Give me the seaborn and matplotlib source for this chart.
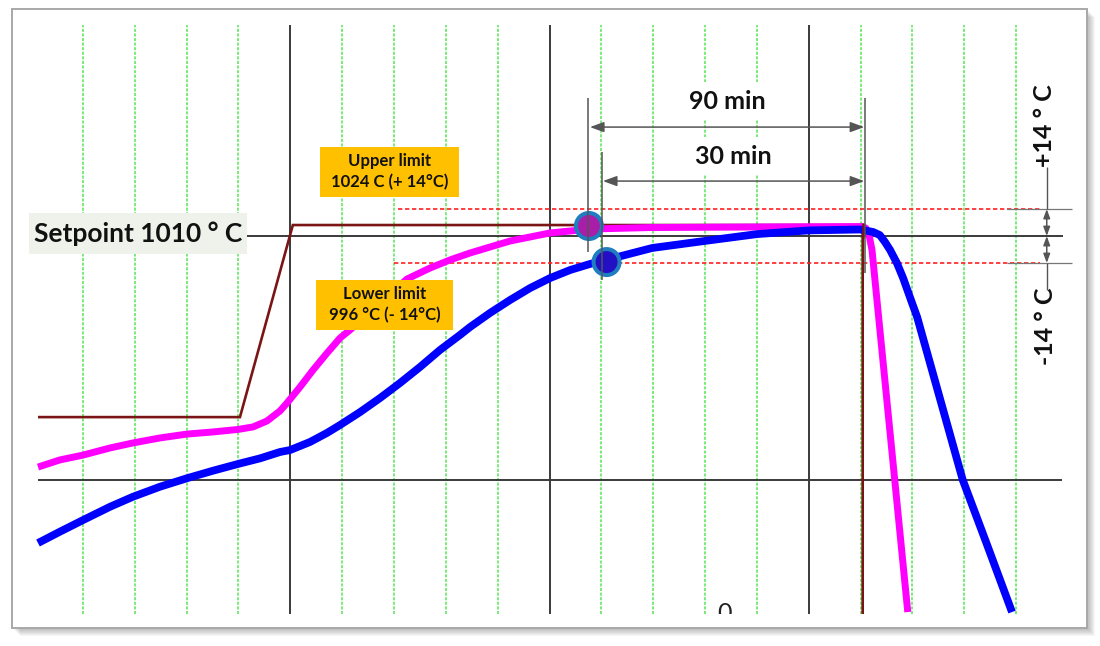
"""
Furnace soak diagram: setpoint ramp, surface and core temperature,
tolerance band of +/- 14 °C around the 1010 °C setpoint.
Time axis is in grid divisions (schematic), temperature in °C.
"""

import matplotlib
matplotlib.use('Agg')
import numpy as np
import pandas as pd
import matplotlib.pyplot as plt
from matplotlib.patches import Rectangle
import seaborn as sns

# ── Data ──────────────────────────────────────────────────────────────────────

SETPOINT = 1010
TOL = 14
UPPER = SETPOINT + TOL
LOWER = SETPOINT - TOL
BASE_C = 883.5

# furnace setpoint programme
PROG_T = [0.135, 4.03, 5.05, 16.04, 16.04]
PROG_C = [916.1, 916.1, 1015.7, 1015.7, 814.0]

# surface temperature (magenta)
SURF_T = [0.135, 0.559, 1.003, 1.524, 1.967, 2.488, 3.009, 3.510, 3.992,
          4.282, 4.552, 4.802, 4.937, 5.188, 5.439, 5.709, 5.960, 6.152,
          7.252, 7.695, 8.081, 8.467, 8.852, 9.238, 9.624, 10.01, 10.40,
          10.76, 11.94, 14.06, 16.03, 16.10, 16.16, 16.22, 16.91]
SURF_C = [890.2, 893.9, 896.4, 900.1, 902.7, 905.3, 907.3, 908.4, 909.7,
          911.0, 914.1, 919.3, 923.4, 931.7, 940.5, 949.3, 957.1, 961.3,
          987.7, 993.4, 997.6, 1001.2, 1004.3, 1007.4, 1009.5, 1011.6, 1012.6,
          1013.6, 1014.4, 1014.7, 1014.9, 1014.1, 1011.0, 1002.7, 815.0]

# core temperature (blue)
CORE_T = [0.135, 0.559, 1.003, 1.524, 1.967, 2.488, 3.009, 3.510, 3.992,
          4.417, 4.802, 4.995, 5.381, 5.709, 5.960, 6.346, 6.732, 7.117,
          7.503, 7.888, 8.274, 8.467, 8.852, 9.238, 9.624, 10.01, 10.40,
          10.78, 11.09, 11.98, 12.98, 14.00, 14.99, 15.99, 16.24, 16.37,
          16.47, 16.57, 16.70, 16.82, 16.95, 17.09, 17.97, 18.44, 18.92]
CORE_C = [850.8, 856.7, 862.7, 869.6, 874.8, 880.0, 884.4, 888.3, 891.8,
          894.7, 898.0, 899.0, 903.2, 907.9, 912.0, 918.7, 926.0, 933.8,
          942.1, 950.9, 958.7, 962.8, 970.1, 976.8, 983.0, 988.2, 992.4,
          995.5, 997.6, 1003.8, 1007.4, 1011.0, 1012.9, 1013.4, 1012.1, 1010.5,
          1006.9, 1002.7, 996.0, 988.2, 978.4, 968.0, 883.5, 849.8, 815.0]

# points where each curve enters the tolerance band
HIT_NAME = ['surface', 'core']
HIT_T = [10.76, 11.10]
HIT_C = [1015.2, 996.5]

MINOR_X = [1, 2, 3, 4, 6, 7, 8, 9, 11, 12, 13, 14, 16, 17, 18, 19]
MAJOR_X = [5, 10, 15]

XLIM = (-0.598, 20.617)
YLIM = (797.4, 1132.4)
GRID_C = (814.0, 1119.4)

GREEN = '#55e655'
DARK = '#3a3a3a'
ARROW = '#555555'
ORANGE = '#ffc000'

sns.set_theme(style='white')
plt.rcParams['font.family'] = ['Lato', 'DejaVu Sans']


def dim_arrow(ax, x0, y0, x1, y1, ms=14):
    ax.annotate('', xy=(x1, y1), xytext=(x0, y0), zorder=5,
                arrowprops=dict(arrowstyle='<|-|>,head_length=0.6,head_width=0.22',
                                color=ARROW, lw=1.1, mutation_scale=ms,
                                shrinkA=0, shrinkB=0))


def label_box(ax, x0, x1, y0, y1, text, fc, fs, lsp=1.2):
    ax.add_patch(Rectangle((x0, y0), x1 - x0, y1 - y0, fc=fc, ec='none',
                           zorder=6))
    ax.text((x0 + x1) / 2, (y0 + y1) / 2, text, ha='center', va='center',
            fontsize=fs, fontweight='bold', color='#111111',
            linespacing=lsp, zorder=7)


def main():
    fig = plt.figure(figsize=(11, 6.46), dpi=100)
    fig.patch.set_facecolor('white')

    # framed panel with a soft drop shadow
    x0, y0, w, h = 12 / 1100, 18 / 646, 1075 / 1100, 619 / 646
    for k in range(1, 9):
        fig.patches.append(Rectangle(
            (x0 + k / 1100, y0 - k / 646), w, h, transform=fig.transFigure,
            fc='#000000', ec='none', alpha=0.035, zorder=-2))
    fig.patches.append(Rectangle((x0, y0), w, h, transform=fig.transFigure,
                                 fc='white', ec='#a8a8a8', lw=1.4, zorder=-1))

    ax = fig.add_axes([0, 0, 1, 1])
    ax.set_zorder(2)
    ax.set_facecolor('none')
    ax.set_xlim(*XLIM)
    ax.set_ylim(*YLIM)
    ax.axis('off')

    # grid
    ax.vlines(MINOR_X, *GRID_C, colors=GREEN, lw=1.1, linestyles=(0, (2, 1)),
              zorder=1)
    ax.vlines(MAJOR_X, *GRID_C, colors=DARK, lw=1.4, zorder=2)
    ax.hlines(BASE_C, 0.135, 19.88, colors=DARK, lw=1.4, zorder=2)
    ax.hlines(SETPOINT, 4.17, 19.90, colors=DARK, lw=1.4, zorder=2)

    # tolerance band
    ax.hlines(UPPER, 7.08, 19.46, colors='#ff2020', lw=1.2,
              linestyles=(0, (2.6, 1.6)), zorder=2)
    ax.hlines(LOWER, 7.00, 19.46, colors='#ff2020', lw=1.2,
              linestyles=(0, (2.6, 1.6)), zorder=2)
    ax.hlines([UPPER, LOWER], 18.82, 20.08, colors='#777777', lw=0.9, zorder=2)

    # curves
    prog = pd.DataFrame({'t': PROG_T, 'temp': PROG_C})
    surf = pd.DataFrame({'t': SURF_T, 'temp': SURF_C})
    core = pd.DataFrame({'t': CORE_T, 'temp': CORE_C})
    sns.lineplot(data=prog, x='t', y='temp', estimator=None, sort=False,
                 color='#7b1515', lw=1.9, ax=ax, zorder=3,
                 solid_capstyle='butt', solid_joinstyle='miter')
    sns.lineplot(data=surf, x='t', y='temp', estimator=None, sort=False,
                 color='#ff00ff', lw=5.0, ax=ax, zorder=4,
                 solid_capstyle='butt', solid_joinstyle='round')
    sns.lineplot(data=core, x='t', y='temp', estimator=None, sort=False,
                 color='#0000ff', lw=5.6, ax=ax, zorder=4,
                 solid_capstyle='butt', solid_joinstyle='round')
    ax.vlines(16.04, 1009, 1016.5, colors='#7b1515', lw=1.9, zorder=4.5)

    hits = pd.DataFrame({'name': HIT_NAME, 't': HIT_T, 'temp': HIT_C})
    sns.scatterplot(data=hits, x='t', y='temp', hue='name',
                    palette={'surface': '#a81ea8', 'core': '#2410c4'},
                    s=350, edgecolor='#1e7ec0', linewidth=2.9, legend=False,
                    ax=ax, zorder=5)

    # soak-time dimensions
    ax.vlines(10.74, 1001.7, 1081.6, colors=ARROW, lw=1.1, zorder=5)
    ax.vlines(16.08, 990.8, 1081.6, colors=ARROW, lw=1.1, zorder=5)
    ax.vlines(11.01, 987.2, 1053.6, colors=ARROW, lw=1.1, zorder=5)
    dim_arrow(ax, 10.78, 1066.5, 16.07, 1066.5)
    dim_arrow(ax, 11.03, 1038.5, 16.07, 1038.5)
    for txt, x, y in [('90 min', 13.42, 1080.0), ('30 min', 13.55, 1051.5)]:
        ax.text(x, y, txt, ha='center', va='center', fontsize=18,
                fontweight='bold', color='#111111', zorder=6,
                bbox=dict(boxstyle='square,pad=0.3', fc='white', ec='none'))

    # tolerance dimensions on the right
    ax.vlines(19.59, UPPER, 1045.8, colors=ARROW, lw=1.0, zorder=5)
    ax.vlines(19.59, 982.0, LOWER, colors=ARROW, lw=1.0, zorder=5)
    dim_arrow(ax, 19.59, UPPER, 19.59, SETPOINT, ms=9)
    dim_arrow(ax, 19.59, SETPOINT, 19.59, LOWER, ms=9)
    ax.text(19.54, 1067.0, '+14 ° C', rotation=90, ha='center', va='center',
            fontsize=18, fontweight='bold', color='#111111', zorder=6)
    ax.text(19.56, 963.3, '-14 ° C', rotation=90, ha='center', va='center',
            fontsize=18, fontweight='bold', color='#111111', zorder=6)

    # labels
    label_box(ax, -0.042, 4.174, 1000.7, 1021.9, 'Setpoint 1010 ° C',
              '#eff2ea', 19)
    label_box(ax, 5.574, 8.247, 1030.4, 1056.3,
              'Upper limit\n1024 C (+ 14°C)', ORANGE, 12, 1.35)
    label_box(ax, 5.497, 8.139, 961.3, 987.2,
              'Lower limit\n996 °C (- 14°C)', ORANGE, 12, 1.35)

    # axis tick label, mostly cut off by the bottom of the plot area
    zero = ax.text(13.37, 810.4, '0', ha='center', va='baseline', fontsize=18,
                   color='#222222', zorder=6, clip_on=True)
    clip = Rectangle((XLIM[0], GRID_C[0]), XLIM[1] - XLIM[0],
                     YLIM[1] - GRID_C[0], transform=ax.transData)
    zero.set_clip_path(clip)

    fig.savefig('out.png', dpi=100, facecolor='white')
    plt.close(fig)


if __name__ == '__main__':
    main()
